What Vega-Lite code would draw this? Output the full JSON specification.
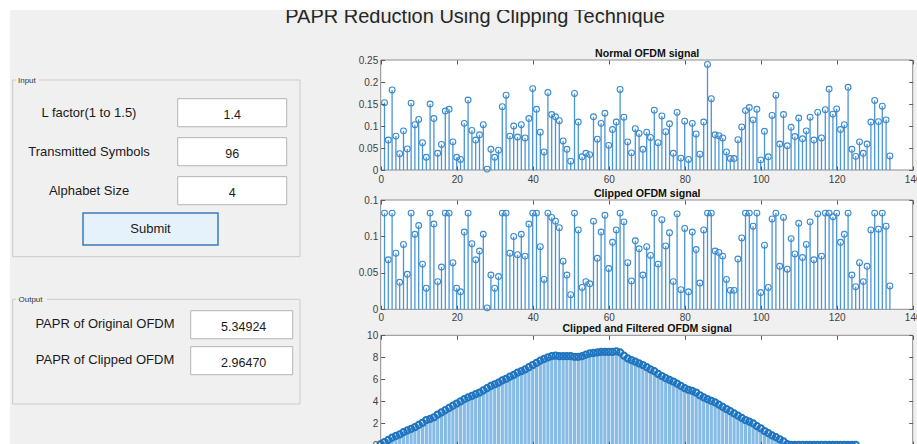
{
"$schema": "https://vega.github.io/schema/vega-lite/v6.json",
"width": 917, "height": 444, "padding": 0, "autosize": {"type": "none"},
"background": "white",
"config": {"view": {"stroke": null}, "font": "Liberation Sans",
  "axis": {"grid": false, "domain": false, "labelFlush": false, "labelOverlap": false, "tickColor": "#5a5a5a", "tickSize": -4, "labelColor": "#404040", "labelFontSize": 10, "labelFont": "Liberation Sans", "titleFont": "Liberation Sans", "titleFontSize": 10.6, "titleFontWeight": "bold", "titleColor": "#111111"}},
"datasets": {
 "form": [
  {"section": "Input", "row": 1, "label": "L factor(1 to 1.5)", "value": "1.4"},
  {"section": "Input", "row": 2, "label": "Transmitted Symbols", "value": "96"},
  {"section": "Input", "row": 3, "label": "Alphabet Size", "value": "4"},
  {"section": "Output", "row": 1, "label": "PAPR of Original OFDM", "value": "5.34924"},
  {"section": "Output", "row": 2, "label": "PAPR of Clipped OFDM", "value": "2.96470"}
 ],
 "sig": [
  {"n":1,"normal":0.153,"clipped":0.132},{"n":2,"normal":0.068,"clipped":0.068},{"n":3,"normal":0.182,"clipped":0.132},{"n":4,"normal":0.077,"clipped":0.077},{"n":5,"normal":0.037,"clipped":0.037},
  {"n":6,"normal":0.089,"clipped":0.089},{"n":7,"normal":0.048,"clipped":0.048},{"n":8,"normal":0.152,"clipped":0.132},{"n":9,"normal":0.103,"clipped":0.103},{"n":10,"normal":0.115,"clipped":0.115},
  {"n":11,"normal":0.062,"clipped":0.062},{"n":12,"normal":0.029,"clipped":0.029},{"n":13,"normal":0.150,"clipped":0.132},{"n":14,"normal":0.117,"clipped":0.117},{"n":15,"normal":0.038,"clipped":0.038},
  {"n":16,"normal":0.058,"clipped":0.058},{"n":17,"normal":0.134,"clipped":0.132},{"n":18,"normal":0.138,"clipped":0.132},{"n":19,"normal":0.064,"clipped":0.064},{"n":20,"normal":0.029,"clipped":0.029},
  {"n":21,"normal":0.024,"clipped":0.024},{"n":22,"normal":0.106,"clipped":0.106},{"n":23,"normal":0.159,"clipped":0.132},{"n":24,"normal":0.090,"clipped":0.090},{"n":25,"normal":0.068,"clipped":0.068},
  {"n":26,"normal":0.080,"clipped":0.080},{"n":27,"normal":0.103,"clipped":0.103},{"n":28,"normal":0.002,"clipped":0.002},{"n":29,"normal":0.047,"clipped":0.047},{"n":30,"normal":0.029,"clipped":0.029},
  {"n":31,"normal":0.045,"clipped":0.045},{"n":32,"normal":0.144,"clipped":0.132},{"n":33,"normal":0.170,"clipped":0.132},{"n":34,"normal":0.077,"clipped":0.077},{"n":35,"normal":0.100,"clipped":0.100},
  {"n":36,"normal":0.075,"clipped":0.075},{"n":37,"normal":0.103,"clipped":0.103},{"n":38,"normal":0.073,"clipped":0.073},{"n":39,"normal":0.117,"clipped":0.117},{"n":40,"normal":0.185,"clipped":0.132},
  {"n":41,"normal":0.138,"clipped":0.132},{"n":42,"normal":0.086,"clipped":0.086},{"n":43,"normal":0.041,"clipped":0.041},{"n":44,"normal":0.176,"clipped":0.132},{"n":45,"normal":0.126,"clipped":0.126},
  {"n":46,"normal":0.121,"clipped":0.121},{"n":47,"normal":0.112,"clipped":0.112},{"n":48,"normal":0.066,"clipped":0.066},{"n":49,"normal":0.047,"clipped":0.047},{"n":50,"normal":0.020,"clipped":0.020},
  {"n":51,"normal":0.174,"clipped":0.132},{"n":52,"normal":0.109,"clipped":0.109},{"n":53,"normal":0.030,"clipped":0.030},{"n":54,"normal":0.038,"clipped":0.038},{"n":55,"normal":0.035,"clipped":0.035},
  {"n":56,"normal":0.121,"clipped":0.121},{"n":57,"normal":0.070,"clipped":0.070},{"n":58,"normal":0.106,"clipped":0.106},{"n":59,"normal":0.129,"clipped":0.129},{"n":60,"normal":0.056,"clipped":0.056},
  {"n":61,"normal":0.092,"clipped":0.092},{"n":62,"normal":0.109,"clipped":0.109},{"n":63,"normal":0.183,"clipped":0.132},{"n":64,"normal":0.120,"clipped":0.120},{"n":65,"normal":0.064,"clipped":0.064},
  {"n":66,"normal":0.039,"clipped":0.039},{"n":67,"normal":0.094,"clipped":0.094},{"n":68,"normal":0.083,"clipped":0.083},{"n":69,"normal":0.047,"clipped":0.047},{"n":70,"normal":0.086,"clipped":0.086},
  {"n":71,"normal":0.074,"clipped":0.074},{"n":72,"normal":0.136,"clipped":0.132},{"n":73,"normal":0.062,"clipped":0.062},{"n":74,"normal":0.123,"clipped":0.123},{"n":75,"normal":0.087,"clipped":0.087},
  {"n":76,"normal":0.105,"clipped":0.105},{"n":77,"normal":0.038,"clipped":0.038},{"n":78,"normal":0.131,"clipped":0.131},{"n":79,"normal":0.027,"clipped":0.027},{"n":80,"normal":0.111,"clipped":0.111},
  {"n":81,"normal":0.024,"clipped":0.024},{"n":82,"normal":0.106,"clipped":0.106},{"n":83,"normal":0.082,"clipped":0.082},{"n":84,"normal":0.036,"clipped":0.036},{"n":85,"normal":0.109,"clipped":0.109},
  {"n":86,"normal":0.240,"clipped":0.132},{"n":87,"normal":0.162,"clipped":0.132},{"n":88,"normal":0.080,"clipped":0.080},{"n":89,"normal":0.078,"clipped":0.078},{"n":90,"normal":0.073,"clipped":0.073},
  {"n":91,"normal":0.041,"clipped":0.041},{"n":92,"normal":0.026,"clipped":0.026},{"n":93,"normal":0.026,"clipped":0.026},{"n":94,"normal":0.069,"clipped":0.069},{"n":95,"normal":0.098,"clipped":0.098},
  {"n":96,"normal":0.135,"clipped":0.132},{"n":97,"normal":0.142,"clipped":0.132},{"n":98,"normal":0.114,"clipped":0.114},{"n":99,"normal":0.138,"clipped":0.132},{"n":100,"normal":0.023,"clipped":0.023},
  {"n":101,"normal":0.088,"clipped":0.088},{"n":102,"normal":0.030,"clipped":0.030},{"n":103,"normal":0.124,"clipped":0.124},{"n":104,"normal":0.170,"clipped":0.132},{"n":105,"normal":0.059,"clipped":0.059},
  {"n":106,"normal":0.126,"clipped":0.126},{"n":107,"normal":0.055,"clipped":0.055},{"n":108,"normal":0.097,"clipped":0.097},{"n":109,"normal":0.076,"clipped":0.076},{"n":110,"normal":0.118,"clipped":0.118},
  {"n":111,"normal":0.071,"clipped":0.071},{"n":112,"normal":0.089,"clipped":0.089},{"n":113,"normal":0.120,"clipped":0.120},{"n":114,"normal":0.068,"clipped":0.068},{"n":115,"normal":0.131,"clipped":0.131},
  {"n":116,"normal":0.073,"clipped":0.073},{"n":117,"normal":0.137,"clipped":0.132},{"n":118,"normal":0.184,"clipped":0.132},{"n":119,"normal":0.127,"clipped":0.127},{"n":120,"normal":0.139,"clipped":0.132},
  {"n":121,"normal":0.092,"clipped":0.092},{"n":122,"normal":0.103,"clipped":0.103},{"n":123,"normal":0.188,"clipped":0.132},{"n":124,"normal":0.047,"clipped":0.047},{"n":125,"normal":0.031,"clipped":0.031},
  {"n":126,"normal":0.064,"clipped":0.064},{"n":127,"normal":0.038,"clipped":0.038},{"n":128,"normal":0.059,"clipped":0.059},{"n":129,"normal":0.109,"clipped":0.109},{"n":130,"normal":0.158,"clipped":0.132},
  {"n":131,"normal":0.110,"clipped":0.110},{"n":132,"normal":0.145,"clipped":0.132},{"n":133,"normal":0.114,"clipped":0.114},{"n":134,"normal":0.032,"clipped":0.032}
 ],
 "filt": [
  {"n":0,"filtered":0.1},{"n":1,"filtered":0.3},{"n":2,"filtered":0.5},{"n":3,"filtered":0.7},{"n":4,"filtered":0.85},{"n":5,"filtered":1.0},{"n":6,"filtered":1.2},{"n":7,"filtered":1.35},{"n":8,"filtered":1.5},{"n":9,"filtered":1.65},
  {"n":10,"filtered":1.85},{"n":11,"filtered":2.05},{"n":12,"filtered":2.3},{"n":13,"filtered":2.4},{"n":14,"filtered":2.55},{"n":15,"filtered":2.8},{"n":16,"filtered":3.0},{"n":17,"filtered":3.2},{"n":18,"filtered":3.4},{"n":19,"filtered":3.6},
  {"n":20,"filtered":3.8},{"n":21,"filtered":4.0},{"n":22,"filtered":4.2},{"n":23,"filtered":4.35},{"n":24,"filtered":4.5},{"n":25,"filtered":4.65},{"n":26,"filtered":4.8},{"n":27,"filtered":5.0},{"n":28,"filtered":5.2},{"n":29,"filtered":5.4},
  {"n":30,"filtered":5.55},{"n":31,"filtered":5.7},{"n":32,"filtered":5.9},{"n":33,"filtered":6.05},{"n":34,"filtered":6.25},{"n":35,"filtered":6.4},{"n":36,"filtered":6.6},{"n":37,"filtered":6.75},{"n":38,"filtered":6.9},{"n":39,"filtered":7.1},
  {"n":40,"filtered":7.3},{"n":41,"filtered":7.5},{"n":42,"filtered":7.7},{"n":43,"filtered":7.85},{"n":44,"filtered":8.0},{"n":45,"filtered":8.1},{"n":46,"filtered":8.15},{"n":47,"filtered":8.1},{"n":48,"filtered":8.1},{"n":49,"filtered":8.1},
  {"n":50,"filtered":8.1},{"n":51,"filtered":8.05},{"n":52,"filtered":8.05},{"n":53,"filtered":8.1},{"n":54,"filtered":8.25},{"n":55,"filtered":8.35},{"n":56,"filtered":8.4},{"n":57,"filtered":8.45},{"n":58,"filtered":8.5},{"n":59,"filtered":8.5},
  {"n":60,"filtered":8.5},{"n":61,"filtered":8.5},{"n":62,"filtered":8.55},{"n":63,"filtered":8.45},{"n":64,"filtered":8.15},{"n":65,"filtered":7.9},{"n":66,"filtered":7.75},{"n":67,"filtered":7.6},{"n":68,"filtered":7.45},{"n":69,"filtered":7.3},
  {"n":70,"filtered":7.1},{"n":71,"filtered":6.9},{"n":72,"filtered":6.75},{"n":73,"filtered":6.5},{"n":74,"filtered":6.3},{"n":75,"filtered":6.1},{"n":76,"filtered":5.95},{"n":77,"filtered":5.8},{"n":78,"filtered":5.6},{"n":79,"filtered":5.4},
  {"n":80,"filtered":5.2},{"n":81,"filtered":5.05},{"n":82,"filtered":4.95},{"n":83,"filtered":4.8},{"n":84,"filtered":4.55},{"n":85,"filtered":4.35},{"n":86,"filtered":4.2},{"n":87,"filtered":4.05},{"n":88,"filtered":3.9},{"n":89,"filtered":3.7},
  {"n":90,"filtered":3.5},{"n":91,"filtered":3.3},{"n":92,"filtered":3.1},{"n":93,"filtered":2.9},{"n":94,"filtered":2.7},{"n":95,"filtered":2.5},{"n":96,"filtered":2.3},{"n":97,"filtered":2.15},{"n":98,"filtered":2.0},{"n":99,"filtered":1.75},
  {"n":100,"filtered":1.55},{"n":101,"filtered":1.3},{"n":102,"filtered":1.1},{"n":103,"filtered":0.9},{"n":104,"filtered":0.75},{"n":105,"filtered":0.55},{"n":106,"filtered":0.35},{"n":107,"filtered":0.1},{"n":108,"filtered":0.05},{"n":109,"filtered":0.05},
  {"n":110,"filtered":0.05},{"n":111,"filtered":0.05},{"n":112,"filtered":0.05},{"n":113,"filtered":0.05},{"n":114,"filtered":0.05},{"n":115,"filtered":0.05},{"n":116,"filtered":0.05},{"n":117,"filtered":0.05},{"n":118,"filtered":0.05},{"n":119,"filtered":0.05},
  {"n":120,"filtered":0.05},{"n":121,"filtered":0.05},{"n":122,"filtered":0.05},{"n":123,"filtered":0.05},{"n":124,"filtered":0.05},{"n":125,"filtered":0.05}
 ]
},
"resolve": {"scale": {"x": "independent", "y": "independent"}, "axis": {"x": "independent", "y": "independent"}},
"layer": [
 {
  "layer": [
   {"data": {"values": [{}]}, "mark": {"type": "rect", "fill": "#f0f0f0"},
    "encoding": {"x": {"datum": 10, "type": "quantitative", "scale": {"type": "linear", "domain": [0, 917], "range": [0, 917], "nice": false, "zero": false}, "axis": null}, "x2": {"datum": 917},
                 "y": {"datum": 10, "type": "quantitative", "scale": {"type": "linear", "domain": [0, 444], "range": [0, 444], "nice": false, "zero": false}, "axis": null}, "y2": {"datum": 444}}},
   {"data": {"values": [{"text": "PAPR Reduction Using Clipping Technique"}]}, "mark": {"type": "text", "fontSize": 20, "align": "center", "baseline": "alphabetic", "color": "#262626"},
    "encoding": {"x": {"datum": 475, "type": "quantitative"}, "y": {"datum": 23, "type": "quantitative"}, "text": {"field": "text"}}},
   {"data": {"values": [{}]}, "mark": {"type": "rect", "fill": "white"},
    "encoding": {"x": {"datum": 0, "type": "quantitative"}, "x2": {"datum": 917}, "y": {"datum": 0, "type": "quantitative"}, "y2": {"datum": 10}}},
   {"data": {"values": [{}]}, "mark": {"type": "rect", "fill": "white"},
    "encoding": {"x": {"datum": 0, "type": "quantitative"}, "x2": {"datum": 10}, "y": {"datum": 0, "type": "quantitative"}, "y2": {"datum": 444}}},
   {"data": {"values": [{}]}, "mark": {"type": "rect", "fill": "transparent", "stroke": "#cbcbcb", "strokeWidth": 1},
    "encoding": {"x": {"datum": 12.7, "type": "quantitative"}, "x2": {"datum": 300}, "y": {"datum": 80, "type": "quantitative"}, "y2": {"datum": 256.7}}},
   {"data": {"values": [{}]}, "mark": {"type": "rect", "fill": "transparent", "stroke": "#cbcbcb", "strokeWidth": 1},
    "encoding": {"x": {"datum": 12.7, "type": "quantitative"}, "x2": {"datum": 300}, "y": {"datum": 299.3, "type": "quantitative"}, "y2": {"datum": 404}}},
   {"data": {"values": [{}]}, "mark": {"type": "rect", "fill": "#f0f0f0"},
    "encoding": {"x": {"datum": 16, "type": "quantitative"}, "x2": {"datum": 39}, "y": {"datum": 77, "type": "quantitative"}, "y2": {"datum": 83.5}}},
   {"data": {"values": [{}]}, "mark": {"type": "rect", "fill": "#f0f0f0"},
    "encoding": {"x": {"datum": 16, "type": "quantitative"}, "x2": {"datum": 47}, "y": {"datum": 296, "type": "quantitative"}, "y2": {"datum": 302.5}}},
   {"data": {"values": [{"text": "Input"}]}, "mark": {"type": "text", "fontSize": 8, "align": "left", "baseline": "middle", "color": "#333333"},
    "encoding": {"x": {"datum": 18, "type": "quantitative"}, "y": {"datum": 80.5, "type": "quantitative"}, "text": {"field": "text"}}},
   {"data": {"values": [{"text": "Output"}]}, "mark": {"type": "text", "fontSize": 8, "align": "left", "baseline": "middle", "color": "#333333"},
    "encoding": {"x": {"datum": 18.5, "type": "quantitative"}, "y": {"datum": 299.5, "type": "quantitative"}, "text": {"field": "text"}}},
   {"data": {"values": [{}]}, "mark": {"type": "rect", "fill": "#e5f1fb", "stroke": "#3d7ab8", "strokeWidth": 1.5},
    "encoding": {"x": {"datum": 83, "type": "quantitative"}, "x2": {"datum": 218}, "y": {"datum": 213, "type": "quantitative"}, "y2": {"datum": 245}}},
   {"data": {"values": [{"text": "Submit"}]}, "mark": {"type": "text", "fontSize": 13, "align": "center", "baseline": "middle", "color": "#1a1a1a"},
    "encoding": {"x": {"datum": 150.5, "type": "quantitative"}, "y": {"datum": 229, "type": "quantitative"}, "text": {"field": "text"}}}
  ]
 },
 {
  "data": {"name": "form"},
  "transform": [{"filter": "datum.section === 'Input'"}],
  "layer": [
   {"mark": {"type": "rect", "fill": "white", "stroke": "#b4b4b4", "strokeWidth": 1},
    "encoding": {"x": {"datum": "value", "type": "nominal", "scale": {"type": "band", "domain": ["label", "value"], "range": [34.5, 286.7], "paddingInner": 0.239, "paddingOuter": 0}, "axis": null},
                 "y": {"field": "row", "type": "ordinal", "scale": {"type": "band", "domain": [1, 2, 3], "range": [98.7, 204.7], "paddingInner": 0.28, "paddingOuter": 0}, "axis": null}}},
   {"mark": {"type": "text", "fontSize": 13, "align": "center", "baseline": "middle", "color": "#1a1a1a"},
    "encoding": {"x": {"datum": "label", "type": "nominal"}, "y": {"field": "row", "type": "ordinal"}, "text": {"field": "label"}}},
   {"mark": {"type": "text", "fontSize": 12.5, "align": "center", "baseline": "middle", "dy": 2, "color": "#1a1a1a"},
    "encoding": {"x": {"datum": "value", "type": "nominal"}, "y": {"field": "row", "type": "ordinal"}, "text": {"field": "value"}}}
  ]
 },
 {
  "data": {"name": "form"},
  "transform": [{"filter": "datum.section === 'Output'"}],
  "layer": [
   {"mark": {"type": "rect", "fill": "white", "stroke": "#b4b4b4", "strokeWidth": 1},
    "encoding": {"x": {"datum": "value", "type": "nominal", "scale": {"type": "band", "domain": ["label", "value"], "range": [54, 292.7], "paddingInner": 0.254, "paddingOuter": 0}, "axis": null},
                 "y": {"field": "row", "type": "ordinal", "scale": {"type": "band", "domain": [1, 2], "range": [310.7, 374.7], "paddingInner": 0.22, "paddingOuter": 0}, "axis": null}}},
   {"mark": {"type": "text", "fontSize": 13, "align": "center", "baseline": "middle", "dy": -1, "color": "#1a1a1a"},
    "encoding": {"x": {"datum": "label", "type": "nominal"}, "y": {"field": "row", "type": "ordinal"}, "text": {"field": "label"}}},
   {"mark": {"type": "text", "fontSize": 12.5, "align": "center", "baseline": "middle", "dy": 2, "dx": 2, "color": "#1a1a1a"},
    "encoding": {"x": {"datum": "value", "type": "nominal"}, "y": {"field": "row", "type": "ordinal"}, "text": {"field": "value"}}}
  ]
 },
 {
  "data": {"name": "sig"},
  "resolve": {"axis": {"x": "independent", "y": "independent"}},
  "layer": [
   {"data": {"values": [{}]}, "mark": {"type": "rect", "fill": "white", "stroke": "#8c8c8c", "strokeWidth": 1},
    "encoding": {"x": {"datum": 0, "type": "quantitative", "scale": {"domain": [0, 140], "range": [380.7, 912.7], "nice": false, "zero": false},
                       "axis": {"zindex": 2, "orient": "top", "offset": -60, "values": [0, 20, 40, 60, 80, 100, 120, 140], "labels": false, "title": "Normal OFDM signal", "titlePadding": 1.5}},
                 "x2": {"datum": 140},
                 "y": {"datum": 0, "type": "quantitative", "scale": {"domain": [0, 0.25], "range": [170, 60], "nice": false, "zero": false},
                       "axis": {"zindex": 2, "orient": "right", "offset": -4.3, "values": [0, 0.05, 0.1, 0.15, 0.2, 0.25], "labels": false, "title": null}},
                 "y2": {"datum": 0.25}}},
   {"mark": {"type": "rule", "color": "#4a95d6", "strokeWidth": 1.3},
    "encoding": {"x": {"field": "n", "type": "quantitative", "axis": {"zindex": 2, "orient": "bottom", "offset": -274, "values": [0, 20, 40, 60, 80, 100, 120, 140], "title": null, "labelPadding": 8.5}},
                 "y": {"field": "normal", "type": "quantitative", "axis": {"zindex": 2, "orient": "left", "offset": -380.7, "values": [0, 0.05, 0.1, 0.15, 0.2, 0.25], "format": "~g", "title": null, "labelPadding": 7}},
                 "y2": {"datum": 0}}},
   {"mark": {"type": "point", "shape": "circle", "filled": false, "size": 34, "stroke": "#3a8ad0", "strokeWidth": 1.1, "opacity": 1},
    "encoding": {"x": {"field": "n", "type": "quantitative", "axis": null}, "y": {"field": "normal", "type": "quantitative", "axis": null}}}
  ]
 },
 {
  "data": {"name": "sig"},
  "resolve": {"axis": {"x": "independent", "y": "independent"}},
  "layer": [
   {"data": {"values": [{}]}, "mark": {"type": "rect", "fill": "white", "stroke": "#8c8c8c", "strokeWidth": 1},
    "encoding": {"x": {"datum": 0, "type": "quantitative", "scale": {"domain": [0, 140], "range": [380.7, 912.7], "nice": false, "zero": false},
                       "axis": {"zindex": 2, "orient": "top", "offset": -200, "values": [0, 20, 40, 60, 80, 100, 120, 140], "labels": false, "title": "Clipped OFDM signal", "titlePadding": 1.5}},
                 "x2": {"datum": 140},
                 "y": {"datum": 0, "type": "quantitative", "scale": {"domain": [0, 0.15], "range": [309.3, 200], "nice": false, "zero": false},
                       "axis": {"zindex": 2, "orient": "right", "offset": -4.3, "values": [0, 0.05, 0.1, 0.15], "labels": false, "title": null}},
                 "y2": {"datum": 0.15}}},
   {"mark": {"type": "rule", "color": "#4a95d6", "strokeWidth": 1.3},
    "encoding": {"x": {"field": "n", "type": "quantitative", "axis": {"zindex": 2, "orient": "bottom", "offset": -134.7, "values": [0, 20, 40, 60, 80, 100, 120, 140], "title": null, "labelPadding": 7}},
                 "y": {"field": "clipped", "type": "quantitative", "axis": {"zindex": 2, "orient": "left", "offset": -380.7, "values": [0, 0.05, 0.1, 0.15], "format": "~g", "title": null, "labelPadding": 7}},
                 "y2": {"datum": 0}}},
   {"mark": {"type": "point", "shape": "circle", "filled": false, "size": 34, "stroke": "#3a8ad0", "strokeWidth": 1.1, "opacity": 1},
    "encoding": {"x": {"field": "n", "type": "quantitative", "axis": null}, "y": {"field": "clipped", "type": "quantitative", "axis": null}}}
  ]
 },
 {
  "data": {"name": "filt"},
  "resolve": {"axis": {"x": "independent", "y": "independent"}},
  "layer": [
   {"data": {"values": [{}]}, "mark": {"type": "rect", "fill": "white", "stroke": "#8c8c8c", "strokeWidth": 1},
    "encoding": {"x": {"datum": 0, "type": "quantitative", "scale": {"domain": [0, 140], "range": [380.7, 912.7], "nice": false, "zero": false},
                       "axis": {"zindex": 2, "orient": "top", "offset": -335.3, "values": [0, 20, 40, 60, 80, 100, 120, 140], "labels": false, "title": "Clipped and Filtered OFDM signal", "titlePadding": 1}},
                 "x2": {"datum": 140},
                 "y": {"datum": 0, "type": "quantitative", "scale": {"domain": [0, 10], "range": [445.3, 335.3], "nice": false, "zero": false},
                       "axis": {"zindex": 2, "orient": "right", "offset": -4.3, "values": [0, 2, 4, 6, 8, 10], "labels": false, "title": null}},
                 "y2": {"datum": 10}}},
   {"mark": {"type": "rule", "color": "#86bbe6", "strokeWidth": 3.2},
    "encoding": {"x": {"field": "n", "type": "quantitative", "axis": {"zindex": 2, "orient": "bottom", "offset": 1.3, "values": [0, 20, 40, 60, 80, 100, 120, 140], "title": null, "labelPadding": 9}},
                 "y": {"field": "filtered", "type": "quantitative", "axis": {"zindex": 2, "orient": "left", "offset": -380.7, "values": [0, 2, 4, 6, 8, 10], "title": null, "labelPadding": 7}},
                 "y2": {"datum": 0}}},
   {"mark": {"type": "point", "shape": "circle", "filled": false, "size": 38, "stroke": "#1f74bf", "strokeWidth": 2, "opacity": 1},
    "encoding": {"x": {"field": "n", "type": "quantitative", "axis": null}, "y": {"field": "filtered", "type": "quantitative", "axis": null}}}
  ]
 }
]
}
